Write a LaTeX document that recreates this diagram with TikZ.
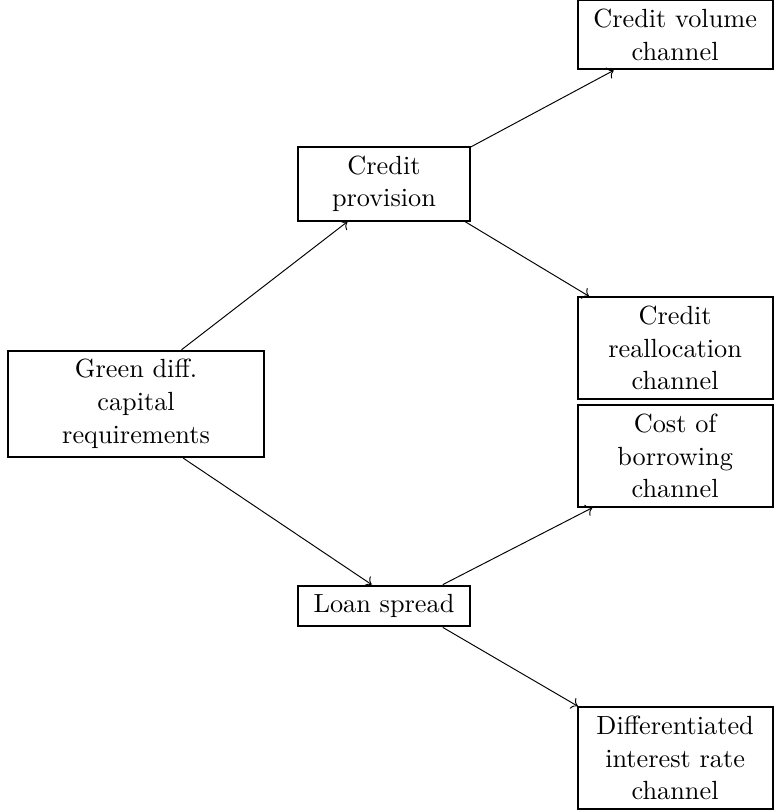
\documentclass[tikz,11pt,border=0pt]{standalone}
\usepackage{tikz}
\usetikzlibrary{arrows.meta, positioning, calc}

\begin{document}
\begin{tikzpicture}[
    channel/.style={draw, thick, align=center, text width=#1},
    channel/.default=2.6cm,
    link/.style={->}
  ]
    \useasboundingbox (-56.7pt,-169.2pt) rectangle (265.4pt,168.3pt);

    % source and the two transmission steps
    \node[channel=3.5cm] (green) at (0,0) {Green diff.\\ capital\\ requirements};
    \node[channel=2.25cm] (provision) at (103.3pt,91.7pt) {Credit\\ provision};
    \node[channel=2.25cm] (spread) at (103.3pt,-84.2pt) {Loan spread};

    % channels
    \node[channel] (volume) at (224.6pt,153.75pt) {Credit volume\\ channel};
    \node[channel] (realloc) at (224.6pt,23.3pt) {Credit\\ reallocation\\ channel};
    \node[channel] (borrowing) at (224.6pt,-21.7pt) {Cost of\\ borrowing\\ channel};
    \node[channel] (diffrate) at (224.6pt,-147.5pt) {Differentiated\\ interest rate\\ channel};

    \draw[link] (green.50) -- (provision.226);
    \draw[link] (green.311) -- (spread.120);
    \draw[link] (provision.23) -- (volume.210);
    \draw[link] (provision.335) -- (realloc.149);
    \draw[link] (spread.20) -- (borrowing.212);
    \draw[link] (spread.340) -- (diffrate.152);
  \end{tikzpicture}
\end{document}
